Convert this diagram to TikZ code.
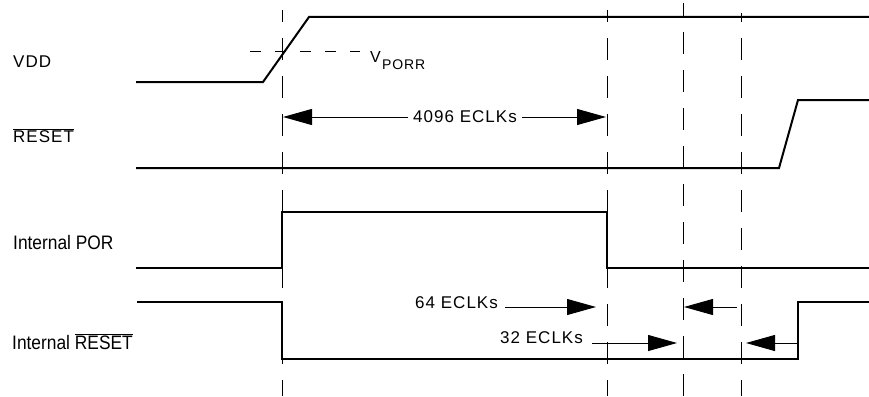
\documentclass[tikz,border=0pt]{standalone}
\usepackage{fontspec}
\setmainfont{Liberation Sans}
\usetikzlibrary{arrows.meta}
\begin{document}
\begin{tikzpicture}[x=1pt,y=-1pt,
  sig/.style={line width=2pt, line join=miter},
  guide/.style={line width=1pt, dash pattern=on 22pt off 16pt},
  meas/.style={line width=1pt, -{Triangle[length=29pt,width=16pt]}},
  lbl/.style={inner sep=0pt, anchor=base west, font=\fontsize{17}{20}\selectfont\addfontfeature{LetterSpace=6}},
  ilbl/.style={inner sep=0pt, anchor=base west, font=\fontsize{19.5}{22}\selectfont},
  eclk/.style={inner sep=5pt, font=\fontsize{17}{20}\selectfont\addfontfeature{LetterSpace=6}}
]
\useasboundingbox (0,0) rectangle (869,396);

% guide lines
\draw[guide, dash phase=10pt] (282,10) -- (282,396);
\draw[guide, dash phase=10pt] (607,10) -- (607,396);
\draw[guide, dash phase=9pt] (683,3) -- (683,396);
\draw[guide, dash phase=13pt] (741,13) -- (741,396);
\draw[line width=1pt, dash pattern=on 11pt off 14pt] (250,52) -- (360,52);

% waveforms
\draw[sig] (136,82) -- (263,82) -- (309,17) -- (869,17);
\draw[sig] (136,168) -- (779,168) -- (798,100) -- (869,100);
\draw[sig] (136,268) -- (282,268) -- (282,212) -- (607,212) -- (607,268) -- (869,268);
\draw[sig] (137,302) -- (282,302) -- (282,359) -- (798,359) -- (798,302) -- (869,302);

% labels
\node[lbl] (vdd) at (13,67) {VDD};
\node[lbl] (rst) at (13,142) {$\overline{\mbox{RESET}}$};
\node[ilbl] (ipor) at (13,249) {\scalebox{0.89}[1]{Internal POR}};
\node[ilbl] (irst) at (12,349) {\scalebox{0.89}[1]{Internal $\overline{\mbox{RESET}}$}};
\node[inner sep=0pt, anchor=base west, font=\fontsize{16}{18}\selectfont] (v) at (370,63) {V};
\node[inner sep=0pt, anchor=base west, font=\fontsize{14}{16}\selectfont\addfontfeature{LetterSpace=6}] (porr) at (382,70) {PORR};

% measurements
\node[eclk] (t4096) at (465,117) {4096 ECLKs};
\coordinate (a1) at (283,117);
\coordinate (a2) at (606,117);
\draw[meas] (t4096.west) -- (a1);
\draw[meas] (t4096.east) -- (a2);

\node[lbl] (t64) at (415,308) {64 ECLKs};
\coordinate (b0) at (505,307);
\coordinate (b1) at (596,307);
\draw[meas] (b0) -- (b1);

\node[lbl] (t32) at (500,343) {32 ECLKs};
\coordinate (c0) at (592,343);
\coordinate (c1) at (677,343);
\draw[meas] (c0) -- (c1);

\coordinate (d0) at (737,307);
\coordinate (d1) at (684,307);
\draw[meas] (d0) -- (d1);

\coordinate (e0) at (798,343);
\coordinate (e1) at (746,343);
\draw[meas] (e0) -- (e1);
\end{tikzpicture}
\end{document}
